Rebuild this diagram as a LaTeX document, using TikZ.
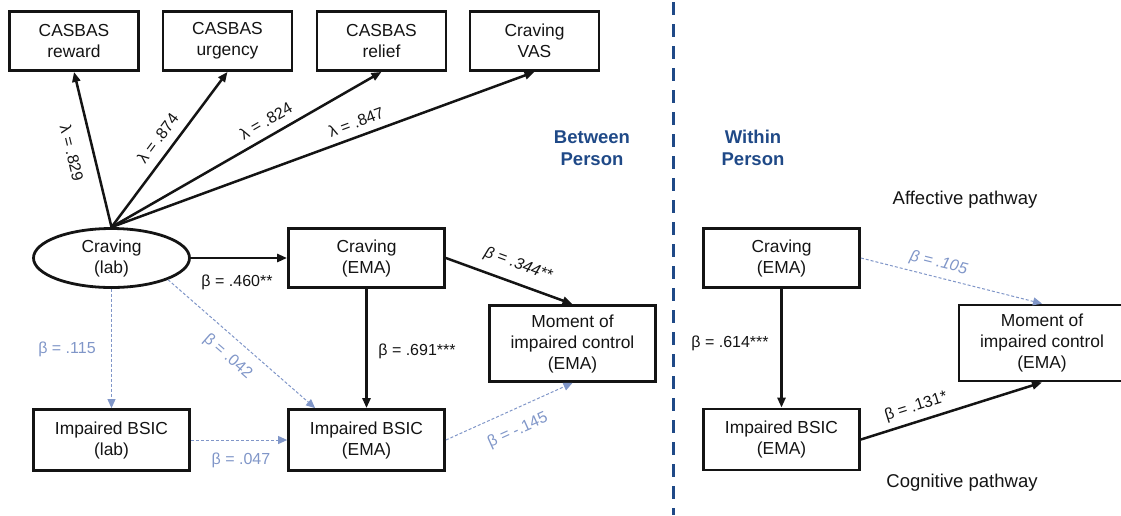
\documentclass[tikz,border=0pt]{standalone}
\usepackage{fontspec}
\setmainfont{Liberation Sans}
\usetikzlibrary{arrows.meta,calc,shapes.geometric}
\definecolor{navy}{RGB}{31,73,135}
\definecolor{nsblue}{RGB}{128,150,200}
\definecolor{ink}{RGB}{20,20,20}
\begin{document}
\begin{tikzpicture}[x=1pt,y=-1pt,
  box/.style={draw=ink, line width=2.8pt, align=center, inner sep=0pt, text=ink,
    font=\fontsize{17.4}{21}\selectfont},
  topbox/.style={box, minimum width=129pt, minimum height=59pt},
  midbox/.style={box, minimum width=156pt, minimum height=59pt},
  lowbox/.style={box, minimum width=156pt, minimum height=61pt},
  mombox/.style={box, minimum width=166pt, minimum height=76pt},
  oval/.style={box, ellipse, minimum width=156pt, minimum height=59pt},
  sig/.style={draw=ink, line width=2.5pt, -{Triangle[length=10pt,width=8pt]}},
  ns/.style={draw=nsblue, line width=1pt, dash pattern=on 3pt off 2pt,
    -{Triangle[length=9pt,width=8pt]}},
  lab/.style={font=\fontsize{16}{19}\selectfont, text=ink, inner sep=1pt},
  nslab/.style={lab, text=nsblue},
  head/.style={font=\fontsize{18.5}{22}\selectfont\bfseries, text=navy, align=center},
  path/.style={font=\fontsize{18.5}{22}\selectfont, text=ink}]
\useasboundingbox (0,0) rectangle (1121,515);

% divider
\draw[navy, line width=3pt, dash pattern=on 13pt off 9pt] (673,2) -- (673,515);

% top indicators
\node[topbox] (rew) at (74,41) {CASBAS\\reward};
\node[topbox] (urg) at (227.5,41) {CASBAS\\urgency};
\node[topbox] (rel) at (381.5,41) {CASBAS\\relief};
\node[topbox] (vas) at (534.5,41) {Craving\\VAS};

% between person
\node[oval] (crlab) at (111.5,258) {Craving\\(lab)};
\node[midbox] (cremaL) at (366.5,258) {Craving\\(EMA)};
\node[mombox] (momL) at (572.5,343.5) {Moment of\\impaired control\\(EMA)};
\node[lowbox] (bsiclab) at (111.5,440) {Impaired BSIC\\(lab)};
\node[lowbox] (bsicemaL) at (366.5,440) {Impaired BSIC\\(EMA)};

% within person
\node[midbox] (cremaR) at (781.5,258) {Craving\\(EMA)};
\node[lowbox] (bsicemaR) at (781.5,439.5) {Impaired BSIC\\(EMA)};
\node[mombox] (momR) at (1042,343) {Moment of\\impaired control\\(EMA)};

% headings
\node[head] (between) at (592,148) {Between\\Person};
\node[head] (within) at (753,148) {Within\\Person};
\node[path] (affect) at (965,200) {Affective pathway};
\node[path] (cognit) at (962,483) {Cognitive pathway};

% loadings
\draw[sig] (crlab.north) -- node[lab, sloped, pos=.51, below=13pt] {λ = .829} (rew.south);
\draw[sig] (crlab.north) -- node[lab, sloped, pos=.51, above=8pt] {λ = .874} (urg.south);
\draw[sig] (crlab.north) -- node[lab, sloped, pos=.60, above=7pt] {λ = .824} (rel.south);
\draw[sig] (crlab.north) -- node[lab, sloped, pos=.59, above=6pt] {λ = .847} (vas.south);

% between paths
\draw[sig] (crlab.east) -- (cremaL.west);
\node[lab] (l460) at (237,282) {β = .460**};
\draw[sig] (cremaL.south) -- (bsicemaL.north);
\node[lab] (l691) at (417,351) {β = .691***};
\draw[sig] (cremaL.east) -- node[lab, sloped, pos=.52, above=9pt, font=\fontsize{16}{19}\selectfont\itshape] {β = .344**} (momL.north);
\draw[ns] (crlab.south) -- (bsiclab.north);
\node[nslab] (l115) at (67,349) {β = .115};
\draw[ns] (crlab.-21) -- node[nslab, sloped, pos=.49, below=10pt] {β = .042} ($(bsicemaL.north west)+(28,0)$);
\draw[ns] (bsiclab.east) -- (bsicemaL.west);
\node[nslab] (l047) at (241,460) {β = .047};
\draw[ns] (bsicemaL.east) -- node[nslab, sloped, pos=.50, below=12pt] {β = -.145} (momL.south);

% within paths
\draw[sig] (cremaR.south) -- (bsicemaR.north);
\node[lab] (l614) at (730,343) {β = .614***};
\draw[ns] (cremaR.east) -- node[nslab, sloped, pos=.41, above=5pt, font=\fontsize{16}{19}\selectfont\itshape] {β = .105} (momR.north);
\draw[sig] (bsicemaR.east) -- node[lab, sloped, pos=.33, above=5pt] {β = .131*} (momR.south);
\end{tikzpicture}
\end{document}
